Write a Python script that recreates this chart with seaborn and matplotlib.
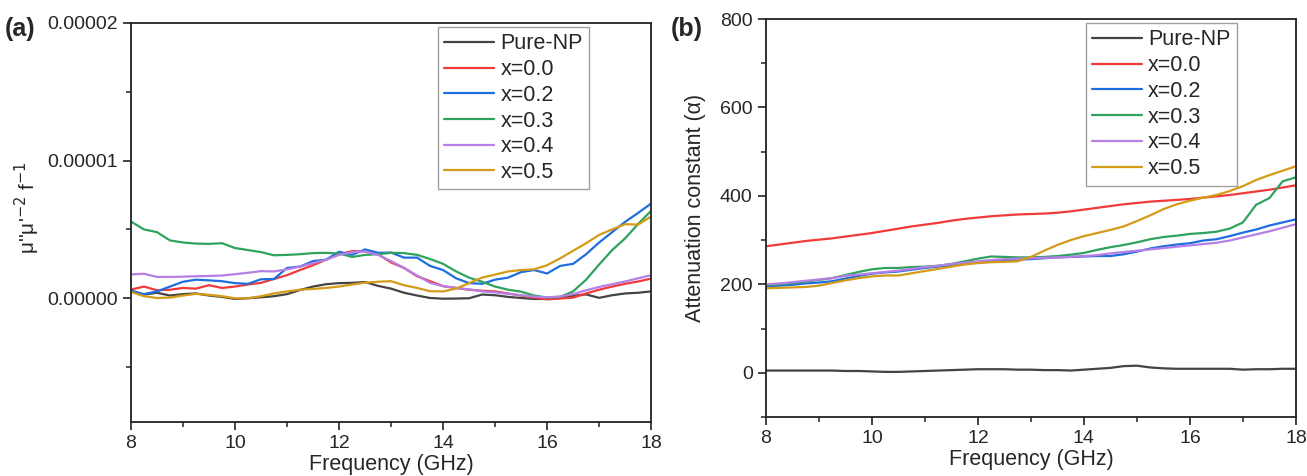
import numpy as np
import pandas as pd
import matplotlib
matplotlib.use('Agg')
import matplotlib.pyplot as plt
from matplotlib.ticker import MultipleLocator, FormatStrFormatter
import seaborn as sns

sns.set_style('ticks')
plt.rcParams['font.family'] = ['Liberation Sans', 'DejaVu Sans']

# 주파수 (GHz), 0.25 간격
freq = np.arange(8.0, 18.01, 0.25)
samples = ['Pure-NP', 'x=0.0', 'x=0.2', 'x=0.3', 'x=0.4', 'x=0.5']
colors = ['#444444', '#f23a3a', '#1f6ee0', '#2fa35e', '#b57fe6', '#d49b17']

# (a) mu'' mu'^-2 f^-1  (단위 1e-6)
a_pure = [0.51, 0.27, 0.40, 0.20, 0.30, 0.35, 0.20, 0.10, -0.05, 0.00, 0.07, 0.15, 0.30, 0.60, 0.85, 1.02,
          1.10, 1.12, 1.18, 0.90, 0.70, 0.40, 0.20, 0.02, -0.03, -0.02, 0.00, 0.27, 0.22, 0.10, 0.02, -0.05,
          -0.05, 0.05, 0.18, 0.28, 0.03, 0.22, 0.35, 0.40, 0.50]
a_x00 = [0.63, 0.85, 0.58, 0.62, 0.75, 0.70, 0.95, 0.75, 0.85, 1.00, 1.12, 1.40, 1.68, 2.05, 2.40, 2.80,
         3.20, 3.42, 3.40, 3.20, 2.60, 2.20, 1.60, 1.24, 0.88, 0.75, 0.62, 0.55, 0.50, 0.35, 0.20, 0.05,
         -0.08, -0.02, 0.05, 0.35, 0.62, 0.85, 1.05, 1.22, 1.43]
a_x02 = [0.56, 0.30, 0.50, 0.85, 1.20, 1.35, 1.30, 1.24, 1.10, 1.05, 1.38, 1.40, 2.20, 2.30, 2.70, 2.80,
         3.38, 3.15, 3.55, 3.30, 3.32, 2.95, 2.95, 2.35, 2.05, 1.45, 1.10, 1.05, 1.35, 1.50, 1.90, 2.05,
         1.80, 2.35, 2.50, 3.20, 4.05, 4.80, 5.55, 6.20, 6.88]
a_x03 = [5.57, 5.00, 4.80, 4.20, 4.05, 3.97, 3.95, 4.00, 3.65, 3.50, 3.35, 3.12, 3.15, 3.20, 3.28, 3.30,
         3.25, 3.00, 3.15, 3.20, 3.30, 3.28, 3.15, 2.85, 2.50, 1.95, 1.50, 1.20, 0.85, 0.62, 0.48, 0.20,
         0.05, 0.10, 0.50, 1.35, 2.45, 3.50, 4.35, 5.40, 6.35]
a_x04 = [1.73, 1.78, 1.55, 1.55, 1.57, 1.60, 1.62, 1.65, 1.75, 1.85, 1.97, 1.95, 2.10, 2.30, 2.55, 2.80,
         3.15, 3.35, 3.40, 3.15, 2.70, 2.20, 1.65, 1.12, 0.88, 0.75, 0.65, 0.50, 0.43, 0.32, 0.22, 0.12,
         0.07, 0.13, 0.30, 0.58, 0.82, 1.02, 1.22, 1.45, 1.68]
a_x05 = [0.46, 0.15, 0.02, 0.05, 0.20, 0.32, 0.25, 0.15, 0.00, 0.00, 0.15, 0.35, 0.50, 0.62, 0.68, 0.75,
         0.85, 1.00, 1.13, 1.20, 1.24, 0.95, 0.75, 0.51, 0.50, 0.70, 1.10, 1.50, 1.72, 1.95, 2.05, 2.10,
         2.40, 2.90, 3.45, 4.00, 4.60, 5.00, 5.38, 5.35, 5.94]

# (b) Attenuation constant
b_pure = [5, 5, 5, 5, 5, 5, 4, 4, 3, 2, 2, 3, 4, 5, 6, 7, 8, 8, 8, 7, 7, 6, 6, 5, 7, 9, 11, 15, 16, 12,
          10, 9, 9, 9, 9, 9, 7, 8, 8, 9, 9]
b_x00 = [286, 290, 294, 298, 301, 304, 308, 312, 316, 321, 326, 331, 335, 339, 344, 348, 351, 354, 356,
         358, 359, 360, 362, 365, 369, 373, 377, 381, 384, 387, 389, 391, 393, 396, 399, 402, 406, 410,
         414, 419, 424]
b_x02 = [196, 197, 199, 202, 204, 207, 213, 219, 224, 227, 229, 233, 237, 240, 243, 246, 250, 252, 254,
         256, 257, 259, 261, 262, 263, 264, 264, 268, 274, 281, 286, 290, 293, 299, 302, 309, 317, 324,
         333, 340, 347]
b_x03 = [198, 200, 203, 206, 210, 214, 221, 228, 234, 237, 237, 239, 240, 242, 246, 252, 258, 263, 262,
         261, 261, 262, 264, 267, 271, 278, 284, 289, 295, 302, 307, 310, 314, 316, 319, 326, 340, 380,
         395, 433, 442]
b_x04 = [200, 202, 205, 208, 211, 214, 219, 222, 225, 228, 231, 235, 239, 242, 246, 249, 252, 255, 257,
         258, 259, 260, 261, 262, 264, 266, 270, 273, 276, 279, 282, 285, 288, 291, 294, 299, 306, 313,
         320, 328, 336]
b_x05 = [191, 192, 193, 194, 197, 203, 209, 214, 218, 220, 220, 225, 230, 235, 240, 245, 248, 250, 251,
         252, 262, 276, 289, 300, 309, 316, 323, 331, 343, 356, 370, 381, 389, 396, 402, 411, 422, 436,
         447, 457, 467]

def to_long(series_list, scale=1.0):
    frames = []
    for name, vals in zip(samples, series_list):
        frames.append(pd.DataFrame({'freq': freq, 'val': np.array(vals) * scale, 'sample': name}))
    return pd.concat(frames, ignore_index=True)

df_a = to_long([a_pure, a_x00, a_x02, a_x03, a_x04, a_x05], 1e-6)
df_b = to_long([b_pure, b_x00, b_x02, b_x03, b_x04, b_x05])

fig = plt.figure(figsize=(13.07, 4.76), dpi=100)
ax1 = fig.add_axes([0.1002, 0.113, 0.398, 0.839])
ax2 = fig.add_axes([0.586, 0.124, 0.4055, 0.836])

pal = dict(zip(samples, colors))
sns.lineplot(data=df_a, x='freq', y='val', hue='sample', palette=pal, lw=1.6, ax=ax1)
sns.lineplot(data=df_b, x='freq', y='val', hue='sample', palette=pal, lw=1.6, ax=ax2)

for ax, anchor in ((ax1, (0.881, 0.99)), (ax2, (0.889, 0.99))):
    ax.set_xlim(8, 18)
    ax.xaxis.set_major_locator(MultipleLocator(2))
    ax.xaxis.set_minor_locator(MultipleLocator(1))
    ax.tick_params(which='major', direction='out', length=6, width=1.2, labelsize=14, color='#222222')
    ax.tick_params(which='minor', direction='out', length=3.5, width=1.1, color='#222222')
    ax.set_xlabel('Frequency (GHz)', fontsize=15.5, labelpad=1)
    for s in ax.spines.values():
        s.set_linewidth(1.3)
        s.set_color('#222222')
    leg = ax.legend(loc='upper right', fontsize=15.5, frameon=True, fancybox=False,
                    handlelength=2.3, handletextpad=0.3, borderpad=0.3, labelspacing=0.22,
                    borderaxespad=0, bbox_to_anchor=anchor)
    leg.get_frame().set_edgecolor('#888888')
    leg.get_frame().set_linewidth(1.0)
    for ln in leg.get_lines():
        ln.set_linewidth(1.6)

ax1.set_ylim(-0.9e-5, 2e-5)
ax1.yaxis.set_major_locator(MultipleLocator(1e-5))
ax1.yaxis.set_minor_locator(MultipleLocator(0.5e-5))
ax1.yaxis.set_major_formatter(FormatStrFormatter('%.5f'))
ax1.set_ylabel("μ''μ'$^{-2}$ f$^{-1}$", fontsize=15)
ax1.yaxis.set_label_coords(-0.171, 0.536)
ax1.yaxis.offsetText.set_visible(False)

ax2.set_ylim(-100, 800)
ax2.yaxis.set_major_locator(MultipleLocator(200))
ax2.yaxis.set_minor_locator(MultipleLocator(100))
ax2.set_ylabel('Attenuation constant (α)', fontsize=15.5)
ax2.yaxis.set_label_coords(-0.113, 0.525)

fig.text(0.004, 0.925, '(a)', fontsize=18, fontweight='bold')
fig.text(0.513, 0.925, '(b)', fontsize=18, fontweight='bold')

fig.savefig('out.png', dpi=100)
